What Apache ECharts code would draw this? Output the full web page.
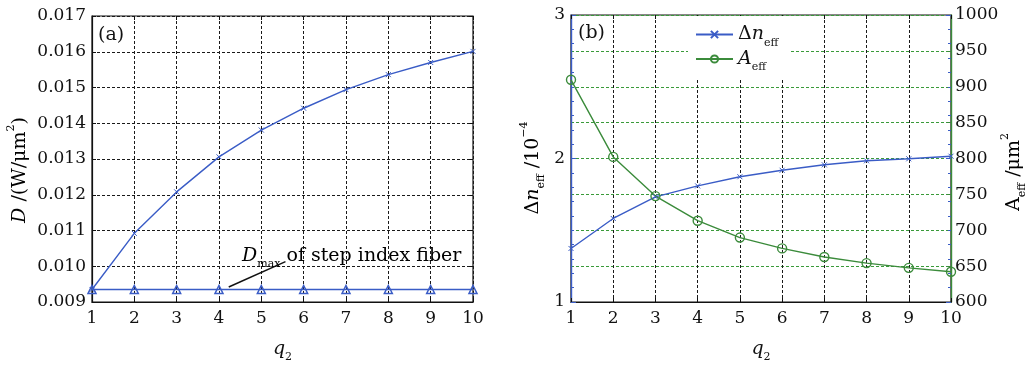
<!DOCTYPE html>
<html>
<head>
<meta charset="utf-8">
<script src="https://cdn.jsdelivr.net/npm/echarts@6/dist/echarts.min.js"></script>
<style>
  html, body { margin: 0; padding: 0; background: #fff; }
  #chart { width: 1029px; height: 368px; }
</style>
</head>
<body>
<div id="chart"></div>
<script>
// data
const q2 = [1, 2, 3, 4, 5, 6, 7, 8, 9, 10];
const dGraded = [0.00935, 0.01092, 0.01208, 0.01306, 0.01381, 0.01442, 0.01494, 0.01536, 0.01570, 0.01601];
const dStep = [0.00935, 0.00935, 0.00935, 0.00935, 0.00935, 0.00935, 0.00935, 0.00935, 0.00935, 0.00935];
const dnEff = [1.373, 1.582, 1.733, 1.809, 1.873, 1.918, 1.956, 1.984, 1.998, 2.016];
const aEff = [909.7, 802.2, 747.6, 713.3, 689.8, 674.7, 662.7, 654.2, 647.6, 642.2];
// arrow of the "D_max of step index fiber" note, in data units (tail, head)
const arrowTail = [5.57, 0.01013];
const arrowHead = [4.23, 0.00942];

const SERIF = 'DejaVu Serif';
const BLUE = '#3a5cc6';
const GREEN = '#3b8b3b';
const INK = '#111';
const TICK_SIZE = 17;

const rich = {
  rm: {fontFamily: SERIF, fontSize: 19, color: INK, lineHeight: 28},
  it: {fontFamily: SERIF, fontSize: 19, fontStyle: 'italic', color: INK, lineHeight: 28},
  sub: {fontFamily: SERIF, fontSize: 11, color: INK, verticalAlign: 'bottom'},
  sup: {fontFamily: SERIF, fontSize: 11, color: INK, verticalAlign: 'top'}
};

const crossSymbol = 'path://M0,0L10,10M10,0L0,10';

function mirrorX(grid, min, max, interval) {
  return {
    gridIndex: grid, type: 'value', position: 'top', min, max, interval,
    axisLine: {show: false}, axisLabel: {show: false}, splitLine: {show: false},
    axisTick: {inside: true, length: 4, lineStyle: {color: INK}}
  };
}

function bottomAxis(grid) {
  return {
    gridIndex: grid, type: 'value', min: 1, max: 10, interval: 1,
    name: '{it|q}{sub|2}', nameLocation: 'middle', nameGap: 33,
    nameTextStyle: {rich},
    axisLine: {lineStyle: {color: INK, width: 1.2}},
    axisTick: {inside: true, length: 4, lineStyle: {color: INK}},
    axisLabel: {fontFamily: SERIF, fontSize: TICK_SIZE, color: INK, margin: 8},
    splitLine: {show: true, lineStyle: {color: '#1a1a1a', type: [3, 2], width: 1}}
  };
}

const chart = echarts.init(document.getElementById('chart'), null, {renderer: 'canvas'});

const option = {
  animation: false,
  backgroundColor: '#fff',
  textStyle: {fontFamily: SERIF},
  grid: [
    {left: 92, top: 16, width: 381, height: 299, show: true, borderColor: INK, borderWidth: 1.2, backgroundColor: '#fff'},
    {left: 571, top: 15, width: 380, height: 300, show: true, borderColor: INK, borderWidth: 1.2, backgroundColor: '#fff'}
  ],
  xAxis: [
    bottomAxis(0),
    mirrorX(0, 1, 10, 1),
    bottomAxis(1),
    mirrorX(1, 1, 10, 1)
  ],
  yAxis: [
    {
      gridIndex: 0, type: 'value', min: 0.009, max: 0.017, interval: 0.001,
      axisLine: {show: true, lineStyle: {color: INK, width: 1.2}},
      axisTick: {inside: true, length: 4, lineStyle: {color: INK}},
      axisLabel: {fontFamily: SERIF, fontSize: TICK_SIZE, color: INK, margin: 6, formatter: v => v.toFixed(3)},
      splitLine: {show: true, lineStyle: {color: '#1a1a1a', type: [3, 2], width: 1}}
    },
    {
      gridIndex: 0, type: 'value', position: 'right', min: 0.009, max: 0.017, interval: 0.001,
      axisLine: {show: false}, axisLabel: {show: false}, splitLine: {show: false},
      axisTick: {inside: true, length: 4, lineStyle: {color: INK}}
    },
    {
      gridIndex: 1, type: 'value', position: 'left', min: 1, max: 3, interval: 1,
      axisLine: {show: true, lineStyle: {color: BLUE, width: 1.4}},
      axisTick: {inside: true, length: 5, lineStyle: {color: BLUE}},
      minorTick: {show: true, splitNumber: 10, length: 3, lineStyle: {color: BLUE}},
      axisLabel: {fontFamily: SERIF, fontSize: TICK_SIZE, color: INK, margin: 6},
      splitLine: {show: false}
    },
    {
      gridIndex: 1, type: 'value', position: 'right', min: 600, max: 1000, interval: 50,
      axisLine: {show: true, lineStyle: {color: GREEN, width: 1.4}},
      axisTick: {inside: true, length: 4, lineStyle: {color: GREEN}},
      axisLabel: {fontFamily: SERIF, fontSize: TICK_SIZE, color: INK, margin: 4, formatter: v => String(v)},
      splitLine: {show: true, lineStyle: {color: '#3a9a3a', type: [3, 2], width: 1}}
    },
    {
      gridIndex: 1, type: 'value', position: 'right', min: 1, max: 3, interval: 1,
      axisLine: {show: false}, axisLabel: {show: false}, splitLine: {show: false},
      axisTick: {inside: true, length: 5, lineStyle: {color: BLUE}},
      minorTick: {show: true, splitNumber: 10, length: 3, lineStyle: {color: BLUE}}
    }
  ],
  legend: {
    data: ['dn', 'aeff'],
    orient: 'vertical',
    left: 688, top: 16,
    padding: [9, 12, 5, 7],
    itemGap: 1,
    itemWidth: 37, itemHeight: 9,
    backgroundColor: '#fff',
    borderWidth: 0,
    textStyle: {fontFamily: SERIF, fontSize: 19, color: INK, rich},
    formatter: name => name === 'dn' ? '{rm|Δ}{it|n}{sub|eff}' : '{it|A}{sub|eff}'
  },
  series: [
    {
      name: 'dGraded', type: 'line', xAxisIndex: 0, yAxisIndex: 0,
      data: q2.map((q, i) => [q, dGraded[i]]),
      symbol: crossSymbol, symbolSize: 5,
      itemStyle: {color: BLUE, borderColor: BLUE, borderWidth: 1},
      lineStyle: {color: BLUE, width: 1.4}
    },
    {
      name: 'dStep', type: 'line', xAxisIndex: 0, yAxisIndex: 0,
      data: q2.map((q, i) => [q, dStep[i]]),
      symbol: 'triangle', symbolSize: 8,
      itemStyle: {color: 'rgba(255,255,255,0)', borderColor: BLUE, borderWidth: 1.5},
      lineStyle: {color: BLUE, width: 1.4},
      markLine: {
        silent: true,
        symbol: ['none', 'arrow'],
        symbolSize: [0, 10],
        label: {show: false},
        lineStyle: {color: INK, type: 'solid', width: 1.5},
        data: [[{coord: arrowTail}, {coord: arrowHead}]]
      }
    },
    {
      name: 'dn', type: 'line', xAxisIndex: 2, yAxisIndex: 2,
      data: q2.map((q, i) => [q, dnEff[i]]),
      symbol: crossSymbol, symbolSize: 5,
      itemStyle: {color: BLUE, borderColor: BLUE, borderWidth: 1},
      lineStyle: {color: BLUE, width: 1.4}
    },
    {
      name: 'aeff', type: 'line', xAxisIndex: 2, yAxisIndex: 3,
      data: q2.map((q, i) => [q, aEff[i]]),
      symbol: 'circle', symbolSize: 9,
      itemStyle: {color: 'rgba(255,255,255,0)', borderColor: GREEN, borderWidth: 1.4},
      lineStyle: {color: GREEN, width: 1.4}
    }
  ],
  graphic: [
    {type: 'text', x: 98, y: 35, style: {text: '(a)', fontFamily: SERIF, fontSize: 19, fill: INK, align: 'left', verticalAlign: 'middle'}},
    {type: 'text', x: 578, y: 33, style: {text: '(b)', fontFamily: SERIF, fontSize: 19, fill: INK, align: 'left', verticalAlign: 'middle'}},
    {type: 'text', x: 242, y: 256, z: 10, style: {text: '{it|D}{sub|max}{rm| of step index fiber}', rich, align: 'left', verticalAlign: 'middle'}},
    {type: 'text', x: 20, y: 170, rotation: Math.PI / 2, style: {text: '{it|D}{rm| /(W/μm}{sup|2}{rm|)}', rich, align: 'center', verticalAlign: 'middle'}},
    {type: 'text', x: 533, y: 168, rotation: Math.PI / 2, style: {text: '{rm|Δ}{it|n}{sub|eff}{rm| /10}{sup|−4}', rich, align: 'center', verticalAlign: 'middle'}},
    {type: 'text', x: 1014, y: 172, rotation: Math.PI / 2, style: {text: '{rm|A}{sub|eff}{rm| /μm}{sup|2}', rich, align: 'center', verticalAlign: 'middle'}}
  ]
};

chart.setOption(option);
</script>
</body>
</html>
